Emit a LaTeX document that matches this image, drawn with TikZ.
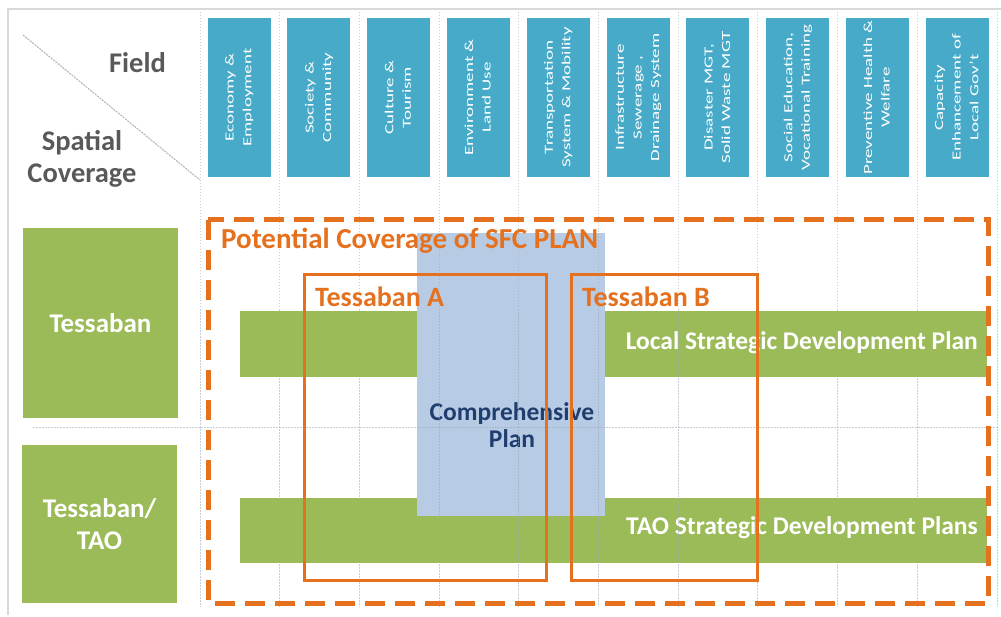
\documentclass[tikz,border=0pt]{standalone}
\usepackage{fontspec}
\usepackage{graphicx}
\setmainfont{Carlito}
\definecolor{hdrblue}{HTML}{46AAC8}
\definecolor{leafgreen}{HTML}{9BBB59}
\definecolor{sfcorange}{HTML}{E5711F}
\definecolor{planblue}{HTML}{B7CCE4}
\definecolor{navytext}{HTML}{1F3D6E}
\definecolor{labelgray}{HTML}{595959}
\definecolor{gridgray}{HTML}{9AA6B8}
% narrow field captions: lines stacked in a squeezed tabular
\newcommand{\fieldcaption}[1]{\scalebox{1}[0.65]{\fontsize{19}{27}\selectfont
  \begin{tabular}{@{}c@{}}#1\end{tabular}}}
\begin{document}
\begin{tikzpicture}[x=1pt,y=-1pt,
  hdr/.style={fill=hdrblue, draw=none, rotate=90, minimum width=159pt, minimum height=63pt,
    inner sep=0pt, align=center, text=white},
  sidebox/.style={fill=leafgreen, draw=none, inner sep=0pt, align=center, text=white,
    font=\fontsize{27}{32}\selectfont\bfseries},
  bar/.style={fill=leafgreen, draw=none, inner sep=0pt},
  bartext/.style={anchor=east, inner sep=0pt, text=white, font=\fontsize{25.5}{30}\selectfont\bfseries},
  planbox/.style={fill=planblue, draw=none, inner sep=0pt},
  orangetext/.style={anchor=west, inner sep=0pt, text=sfcorange, font=\fontsize{28}{32}\selectfont\bfseries},
  areabox/.style={draw=sfcorange, line width=3pt},
  dashframe/.style={draw=sfcorange, line width=5pt, dash pattern=on 20pt off 10pt},
  gridline/.style={draw=gridgray, line width=1pt, dash pattern=on 1.5pt off 1.5pt, opacity=0.55},
  corner/.style={anchor=center, inner sep=0pt, text=labelgray, align=center,
    font=\fontsize{28.5}{32}\selectfont\bfseries}
]
\useasboundingbox (0,0) rectangle (1001,617);
\fill[white] (0,0) rectangle (1001,617);

% outer frame (left and top edges)
\draw[draw=black!15, line width=1.5pt] (8,615) -- (8,9) -- (1001,9);

% corner header with diagonal split
\coordinate (dstart) at (23,35);
\coordinate (dend) at (200,180);
\draw[draw=black!30, line width=1pt, dash pattern=on 2pt off 1pt] (dstart) -- (dend);
\node[corner, anchor=east] (fieldlbl) at (166,63) {Field};
\node[corner] (spatiallbl) at (82,159) {Spatial\\Coverage};

% field headers
\foreach \i/\txt in {0/{Economy \&\\Employment},
                     1/{Society \&\\Community},
                     2/{Culture \&\\Tourism},
                     3/{Environment \&\\Land Use},
                     4/{Transportation\\System \& Mobility},
                     5/{Infrastructure\\Sewerage ,\\Drainage System},
                     6/{Disaster MGT,\\Solid Waste MGT},
                     7/{Social Education,\\Vocational Training},
                     8/{Preventive Health \&\\Welfare},
                     9/{Capacity\\Enhancement of\\Local Gov't}}
  \node[hdr] (f\i) at ({239+79.8*\i},97.5) {\fieldcaption{\txt}};

% spatial coverage rows
\node[sidebox, minimum width=155pt, minimum height=190pt] (tessaban) at (100.5,323) {Tessaban};
\node[sidebox, minimum width=155pt, minimum height=158pt] (tessabantao) at (99.5,524) {Tessaban/\\TAO};

% strategic plan bars
\node[bar, minimum width=747pt, minimum height=66pt] (lsdp) at (613.5,344) {};
\node[bar, minimum width=747pt, minimum height=65pt] (tsdp) at (613.5,530.5) {};

% comprehensive plan
\node[planbox, minimum width=188pt, minimum height=283pt] (comp) at (511,374.5) {};
\node[inner sep=0pt, align=center, text=navytext, font=\fontsize{25.5}{27}\selectfont\bfseries]
  (comptext) at (512,425) {Comprehensive\\Plan};

% bar labels
\node[bartext] (lsdptext) at (978,343) {Local Strategic Development Plan};
\node[bartext] (tsdptext) at (978,528) {TAO Strategic Development Plans};

% dotted grid
\foreach \k in {0,...,10}
  \draw[gridline] ({200+79.7*\k},12) -- ({200+79.7*\k},607);
\draw[gridline] (33,427) -- (998,427);

% potential coverage frame
\draw[dashframe] (208,220) rectangle (988,603);
\node[orangetext, font=\fontsize{29}{32}\selectfont\bfseries] (sfc) at (221,241) {Potential Coverage of SFC PLAN};

% municipality areas
\draw[areabox] (304,275) rectangle (546,580);
\draw[areabox] (571,275) rectangle (757,580);
\node[orangetext] (tsa) at (315,297) {Tessaban A};
\node[orangetext] (tsb) at (582,297) {Tessaban B};
\end{tikzpicture}
\end{document}
